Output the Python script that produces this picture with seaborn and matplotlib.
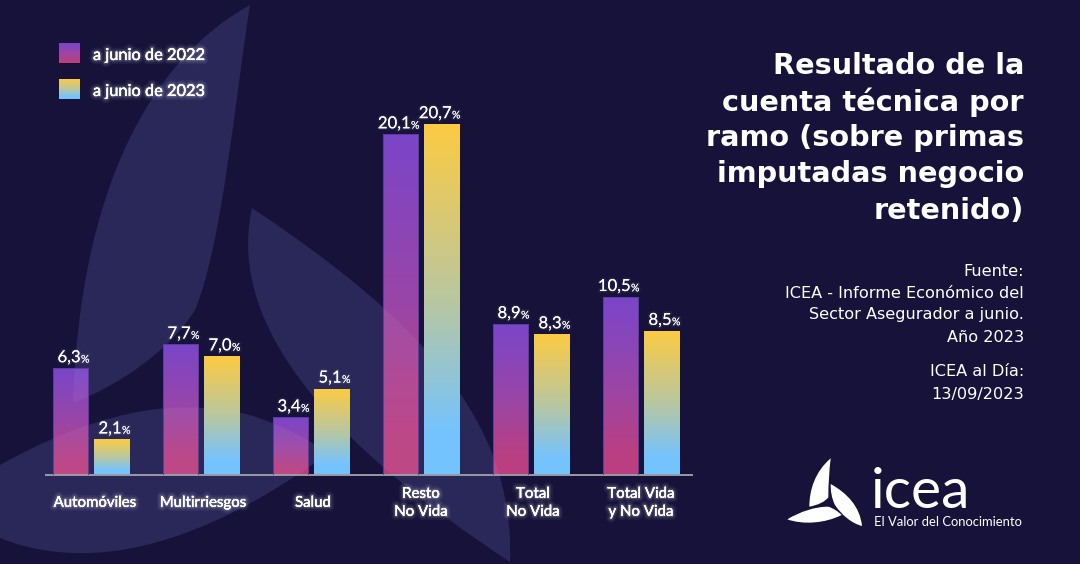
import numpy as np
import pandas as pd
import seaborn as sns
import matplotlib
matplotlib.use("Agg")
import matplotlib.pyplot as plt
import matplotlib.patheffects as pe
from matplotlib.colors import LinearSegmentedColormap
from matplotlib.path import Path
from matplotlib.patches import PathPatch
from matplotlib.transforms import offset_copy, ScaledTranslation

ramos = ["Automóviles", "Multirriesgos", "Salud", "Resto\nNo Vida", "Total\nNo Vida", "Total Vida\ny No Vida"]
periodos = ["a junio de 2022", "a junio de 2023"]
valores_2022 = [6.3, 7.7, 3.4, 20.1, 8.9, 10.5]
valores_2023 = [2.1, 7.0, 5.1, 20.7, 8.3, 8.5]
titulo = "Resultado de la\ncuenta técnica por\nramo (sobre primas\nimputadas negocio\nretenido)"
fuente = ["Fuente:", "ICEA - Informe Económico del", "Sector Asegurador a junio.", "Año 2023"]
fecha = ["ICEA al Día:", "13/09/2023"]

BG = "#16123A"
LEAF = "#2A2759"
W, H = 1080, 564
BASE_PX = 475
PX_PER_UNIT = 16.95
GROUP_PX = 110
FIRST_PX = 91
LABEL_FONT = "Lato"

df = pd.DataFrame({
    "ramo": ramos * 2,
    "periodo": [periodos[0]] * 6 + [periodos[1]] * 6,
    "valor": valores_2022 + valores_2023,
})

sns.set_theme(style="white")
fig = plt.figure(figsize=(W / 100, H / 100), dpi=100, facecolor=BG)

bg = fig.add_axes([0, 0, 1, 1], zorder=0)
bg.set_xlim(0, W)
bg.set_ylim(H, 0)
bg.axis("off")


def make_path(start, curves):
    verts, codes = [start], [Path.MOVETO]
    for c in curves:
        verts += c
        codes += [Path.CURVE4] * 3
    verts.append(start)
    codes.append(Path.CLOSEPOLY)
    return Path(verts, codes)


def blob(ax, start, curves, color, z=1):
    ax.add_patch(PathPatch(make_path(start, curves), fc=color, ec="none", zorder=z))


leaves = [
    ((250, 5), [[(150, 60), (80, 190), (73, 403)],
                [(120, 385), (170, 350), (195, 310)],
                [(222, 245), (235, 100), (250, 5)]]),
    ((252, 208), [[(225, 330), (340, 450), (510, 562)],
                  [(515, 420), (420, 320), (252, 208)]]),
    ((0, 465), [[(90, 415), (170, 395), (250, 415)],
                [(290, 428), (320, 445), (326, 455)],
                [(270, 495), (130, 590), (0, 538)]]),
]
for s, c in leaves:
    blob(bg, s, c, LEAF)

ax = fig.add_axes([46 / W, (H - BASE_PX) / H, (692 - 46) / W, BASE_PX / H], zorder=2)
ax.patch.set_alpha(0)
sns.barplot(data=df, x="ramo", y="valor", hue="periodo", hue_order=periodos,
            width=0.745, gap=0.13, legend=False, ax=ax, errorbar=None)
xlim = ((46 - FIRST_PX) / GROUP_PX, (692 - FIRST_PX) / GROUP_PX)
ylim = (0, BASE_PX / PX_PER_UNIT)

cmap_2022 = LinearSegmentedColormap.from_list("c22", [(0, "#7A45C9"), (0.5, "#9A46A6"), (0.88, "#BA3F82"), (1, "#BC3F80")])
cmap_2023 = LinearSegmentedColormap.from_list("c23", [(0, "#FCCB42"), (0.5, "#B9C7A0"), (0.88, "#75C3FE"), (1, "#73C3FF")])
grad = np.linspace(0, 1, 256).reshape(-1, 1)

glow_big = [pe.withStroke(linewidth=6, foreground="white", alpha=0.05),
            pe.withStroke(linewidth=3.5, foreground="white", alpha=0.08),
            pe.withStroke(linewidth=1.8, foreground="white", alpha=0.12),
            pe.Normal()]
glow_small = [pe.withStroke(linewidth=2.5, foreground="white", alpha=0.05), pe.Normal()]

for bar in list(ax.patches):
    h = bar.get_height()
    if h == 0:
        continue
    x0, w = bar.get_x(), bar.get_width()
    xc = x0 + w / 2
    is_2022 = xc < round(xc)
    bar.set_facecolor("none")
    bar.set_edgecolor("#5A3C9E" if is_2022 else "none")
    bar.set_linewidth(0.7)
    bar.set_zorder(3)
    im = ax.imshow(grad, extent=(x0, x0 + w, 0, h), origin="upper", aspect="auto",
                   cmap=cmap_2022 if is_2022 else cmap_2023, zorder=2.5)
    im.set_clip_path(bar)
    if is_2022:
        for s, c in leaves:
            p = PathPatch(make_path(s, c), fc="white", ec="none", alpha=0.05,
                          transform=bg.transData, zorder=2.7)
            ax.add_artist(p)
            p.set_clip_path(bar)
    lab = f"{h:.1f}".replace(".", ",")
    t1 = offset_copy(ax.transData, fig=fig, x=10 * 0.72, y=3 * 0.72, units="points")
    ax.text(xc, h, lab, transform=t1, ha="right", va="bottom", color="white", fontsize=12,
            family=LABEL_FONT, path_effects=glow_small, zorder=5, clip_on=False)
    t2 = offset_copy(ax.transData, fig=fig, x=10.5 * 0.72, y=3.7 * 0.72, units="points")
    ax.text(xc, h, "%", transform=t2, ha="left", va="bottom", color="white", fontsize=7.6,
            family=LABEL_FONT, path_effects=glow_small, zorder=5, clip_on=False)

ax.set_xlim(*xlim)
ax.set_ylim(*ylim)
ax.set_xlabel("")
ax.set_ylabel("")
ax.set_yticks([])
for s in ["top", "left", "right"]:
    ax.spines[s].set_visible(False)
ax.spines["bottom"].set_color("#9A9AA6")
ax.spines["bottom"].set_linewidth(1.4)
ax.set_xticks(range(len(ramos)))
ax.set_xticklabels(ramos, color="white", fontsize=10.8, family=LABEL_FONT, linespacing=1.36,
                   path_effects=glow_big)
ax.tick_params(axis="x", length=0, pad=20)
for lbl, dx in zip(ax.get_xticklabels(), [4, 2, 2, 0, 2, 0]):
    lbl.set_verticalalignment("center")
    lbl.set_transform(lbl.get_transform() + ScaledTranslation(dx / 100, 0, fig.dpi_scale_trans))

for yy, cm, lab in [(43, cmap_2022, periodos[0]), (79, cmap_2023, periodos[1])]:
    bg.imshow(grad, extent=(59, 80, yy + 20, yy), origin="upper", aspect="auto", cmap=cm, zorder=3)
    bg.text(93, yy + 13, lab, color="white", fontsize=11.8, family=LABEL_FONT, va="center", ha="left",
            path_effects=glow_big, zorder=4)
bg.set_xlim(0, W)
bg.set_ylim(H, 0)

for i, line in enumerate(titulo.split("\n")):
    bg.text(1024, 65.5 + i * 36.3, line, color="white", fontsize=20.7, fontweight="bold",
            family="DejaVu Sans", ha="right", va="center", zorder=4)
for i, line in enumerate(fuente):
    bg.text(1024, 271 + i * 22, line, color="white", fontsize=11.65, family="DejaVu Sans",
            ha="right", va="center", zorder=4)
for i, line in enumerate(fecha):
    bg.text(1024, 372 + i * 22, line, color="white", fontsize=11.65, family="DejaVu Sans",
            ha="right", va="center", zorder=4)


def lz(x, y):
    return (760 + x / 3, 440 + y / 3)


blob(bg, lz(212, 55), [[lz(165, 95), lz(148, 150), lz(148, 200)],
                       [lz(175, 195), lz(195, 185), lz(205, 172)],
                       [lz(205, 130), lz(208, 90), lz(212, 55)]], "white", z=4)
blob(bg, lz(212, 132), [[lz(262, 160), lz(300, 200), lz(306, 258)],
                        [lz(275, 250), lz(245, 225), lz(225, 195)],
                        [lz(215, 175), lz(212, 155), lz(212, 132)]], "white", z=4)
blob(bg, lz(82, 238), [[lz(120, 215), lz(165, 200), lz(205, 200)],
                       [lz(220, 205), lz(235, 215), lz(245, 225)],
                       [lz(195, 250), lz(130, 255), lz(82, 238)]], "white", z=4)
bg.text(871, 508, "icea", color="white", fontsize=41, family="Lato", ha="left", va="baseline", zorder=4)
bg.text(874, 522, "El Valor del Conocimiento", color="white", fontsize=9.4, family="Lato",
        ha="left", va="center", zorder=4)

fig.savefig("out.png", dpi=100, facecolor=BG)
